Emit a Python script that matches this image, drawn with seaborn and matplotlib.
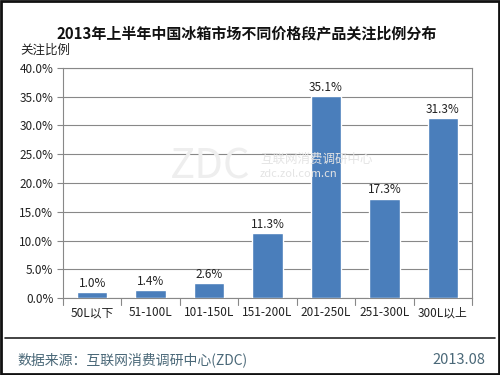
import matplotlib
matplotlib.use("Agg")
import matplotlib.pyplot as plt
import seaborn as sns
import pandas as pd
from matplotlib.lines import Line2D
from matplotlib.patches import Rectangle

categories = ["50L以下", "51-100L", "101-150L", "151-200L", "201-250L", "251-300L", "300L以上"]
values = [1.0, 1.4, 2.6, 11.3, 35.1, 17.3, 31.3]
yticks = [0, 5, 10, 15, 20, 25, 30, 35, 40]

sns.set_style("white")
plt.rcParams['font.family'] = ['Noto Sans CJK SC', 'DejaVu Sans']

df = pd.DataFrame({"cat": categories, "val": values})

fig = plt.figure(figsize=(5, 3.75), dpi=100)
ax = fig.add_axes([0.126, 0.205, 0.818, 0.614])
sns.barplot(data=df, x="cat", y="val", color="#4a7ebb", saturation=1, width=0.52, ax=ax, zorder=3)

ax.set_ylim(0, 40)
ax.set_xlim(-0.5, len(categories) - 0.5)
ax.set_yticks(yticks)
ax.set_yticklabels([f"{v:.1f}%" for v in yticks], fontsize=8.5, color="#222222")
ax.set_xticks(range(len(categories)))
ax.set_xticklabels(categories, fontsize=8.5, color="#222222")
ax.tick_params(axis="x", length=0, pad=6)
ax.tick_params(axis="y", length=4, width=0.8, color="#888888", left=True, pad=3)
for i in range(len(categories) + 1):
    ax.plot([i - 0.5, i - 0.5], [0, -1.2], color="#888888", lw=0.8, clip_on=False, zorder=4)
ax.set_xlabel("")
ax.set_ylabel("")
ax.grid(axis="y", color="#888888", lw=0.8, zorder=0)
for s in ax.spines.values():
    s.set_color("#888888")
    s.set_linewidth(0.8)

for i, v in enumerate(values):
    ax.text(i, v + 0.4, f"{v:.1f}%", ha="center", va="bottom", fontsize=8.5, color="#222222")

# faint watermark
fig.text(0.5, 0.555, "ZDC", fontsize=30, color="#eeeeee", ha="right", va="center", style="italic", zorder=0)
fig.text(0.52, 0.575, "互联网消费调研中心", fontsize=9, color="#e4e4e4", ha="left", va="center")
fig.text(0.52, 0.535, "zdc.zol.com.cn", fontsize=8, color="#e4e4e4", ha="left", va="center")

fig.text(0.493, 0.912, "2013年上半年中国冰箱市场不同价格段产品关注比例分布", fontsize=10.8, fontweight="bold",
         ha="center", va="center", color="#111111")
fig.text(0.04, 0.867, "关注比例", fontsize=9, ha="left", va="center", color="#222222")

fig.add_artist(Line2D([0.01, 0.99], [0.099, 0.099], color="#222222", lw=1.2))
fig.text(0.035, 0.04, "数据来源：互联网消费调研中心(ZDC)", fontsize=10, color="#4a6878", ha="left", va="center")
fig.text(0.97, 0.04, "2013.08", fontsize=10.5, color="#4a6878", ha="right", va="center")

fig.add_artist(Rectangle((0.002, 0.003), 0.996, 0.994, transform=fig.transFigure, fill=False,
                         edgecolor="#111111", lw=2))

fig.savefig("out.png", dpi=100)
